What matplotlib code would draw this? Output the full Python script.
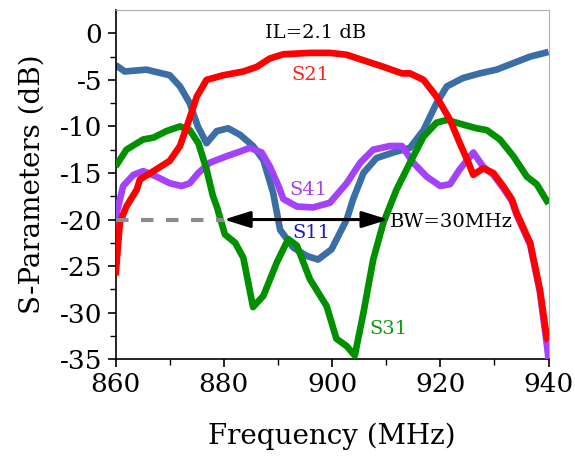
import numpy as np
import matplotlib
matplotlib.use('Agg')
import matplotlib.pyplot as plt

plt.rcParams['font.family'] = ['DejaVu Serif']
plt.rcParams['axes.unicode_minus'] = False

# S11 (return loss)
s11_f = [860, 861.7, 865.7, 870.0, 871.9, 873.7, 875.2, 876.8, 878.7, 880.8, 883.0, 885.4,
         887.3, 889.1, 890.4, 892.8, 895.3, 897.4, 899.9, 902.7, 903.9, 905.8, 908.2, 911.3,
         914.4, 916.9, 919.3, 921.2, 924.2, 927.3, 930.4, 933.5, 936.6, 940]
s11_db = [-3.4, -4.1, -3.9, -4.5, -5.7, -7.5, -10.0, -11.8, -10.5, -10.2, -10.9, -12.1,
          -13.6, -17.1, -21.1, -23.0, -23.9, -24.3, -23.2, -20.0, -17.8, -15.0, -13.4, -12.8,
          -12.3, -10.4, -7.5, -5.7, -4.8, -4.3, -3.9, -3.2, -2.5, -2.0]

# S21 (insertion loss)
s21_f = [860, 860.8, 862.0, 863.9, 864.5, 867.0, 870.0, 871.9, 873.4, 875.0, 876.8, 879.9,
         883.6, 886.1, 888.5, 891.0, 895.9, 899.6, 902.7, 905.8, 909.5, 912.9, 914.4, 916.9,
         919.3, 921.8, 923.6, 925.2, 926.1, 927.9, 929.8, 931.6, 933.2, 934.1, 936.6, 938.4,
         939.7, 940]
s21_db = [-26.0, -20.3, -18.6, -16.8, -15.7, -14.8, -13.7, -12.1, -9.6, -6.8, -5.0, -4.5,
          -4.1, -3.6, -2.7, -2.25, -2.1, -2.1, -2.3, -2.9, -3.6, -4.3, -4.3, -5.0,
          -6.8, -9.3, -11.8, -13.9, -15.2, -14.5, -15.0, -16.4, -17.8, -19.3, -22.5, -27.5,
          -32.8, -33.0]

# S31 (isolation)
s31_f = [860, 862.0, 865.1, 867.0, 869.4, 871.9, 873.7, 875.3, 876.8, 878.0, 878.7, 880.2,
         882.1, 883.6, 885.4, 887.3, 889.8, 891.9, 893.5, 895.9, 899.0, 900.8, 902.7, 904.2,
         905.8, 907.6, 909.5, 911.9, 914.4, 916.9, 919.3, 921.2, 924.2, 926.7, 928.6, 931.0,
         933.5, 936.0, 937.8, 940]
s31_db = [-14.3, -12.5, -11.4, -11.2, -10.5, -10.0, -10.4, -11.8, -14.6, -17.5, -18.6, -21.6,
          -22.5, -24.1, -29.4, -28.2, -24.6, -22.1, -22.8, -26.4, -29.3, -32.8, -33.6, -34.6,
          -30.0, -24.3, -20.3, -16.8, -13.9, -11.1, -9.6, -9.3, -9.8, -10.2, -10.4, -11.4,
          -13.2, -15.4, -16.2, -18.3]

# S41 (coupling)
s41_f = [860, 860.2, 861.4, 863.3, 865.1, 867.6, 870.0, 872.2, 873.7, 875.3, 877.4, 880.5,
         883.0, 884.8, 887.0, 888.5, 890.1, 891.0, 893.5, 896.5, 899.6, 902.7, 905.2, 907.6,
         910.7, 912.9, 915.0, 917.5, 920.0, 921.8, 923.6, 926.1, 927.9, 929.8, 931.6, 933.2,
         934.1, 936.6, 938.4, 939.7, 940]
s41_db = [-21.0, -19.3, -16.4, -15.2, -14.8, -15.4, -16.1, -16.4, -16.1, -15.0, -13.9, -13.2,
          -12.7, -12.3, -12.8, -14.3, -16.4, -17.8, -18.6, -18.7, -18.2, -16.1, -13.9, -12.5,
          -12.1, -12.1, -13.9, -15.4, -16.4, -16.2, -14.6, -12.8, -14.3, -15.2, -16.6, -18.0,
          -19.5, -22.7, -27.8, -33.5, -35.0]

fig = plt.figure(figsize=(5.75, 4.57), dpi=100)
ax = fig.add_axes([0.201, 0.214, 0.753, 0.764])

lw = 4.8
style = dict(lw=lw, solid_joinstyle='round', solid_capstyle='butt')
ax.plot(s11_f, s11_db, color='#3b6ea4', zorder=2, **style)
ax.plot(s41_f, s41_db, color='#a341fb', zorder=3, **style)
ax.plot(s31_f, s31_db, color='#009000', zorder=4, **style)
ax.plot(s21_f, s21_db, color='#ff0000', zorder=5, **style)

# bandwidth marker
ax.plot([860, 880], [-20, -20], color='#8c8c8c', lw=3, ls=(0, (3, 3)), zorder=6)
ax.annotate('', xy=(880, -20), xytext=(910.4, -20),
            arrowprops=dict(arrowstyle='<|-|>,head_length=0.8,head_width=0.25',
                            color='black', lw=2.2,
                            mutation_scale=20, shrinkA=0, shrinkB=0), zorder=7)

ax.text(897.0, 0.0, 'IL=2.1 dB', fontsize=14, ha='center', va='center')
ax.text(896.0, -4.5, 'S21', fontsize=14, color='#ff2020', ha='center', va='center')
ax.text(895.6, -16.8, 'S41', fontsize=14, color='#a341fb', ha='center', va='center')
ax.text(896.1, -21.4, 'S11', fontsize=14, color='#1a1ac0', ha='center', va='center')
ax.text(910.5, -31.8, 'S31', fontsize=14, color='#119911', ha='center', va='center')
ax.text(910.7, -20.3, 'BW=30MHz', fontsize=14, ha='left', va='center')

ax.set_xlim(860, 940)
ax.set_ylim(-35, 2.5)
ax.set_xticks([860, 880, 900, 920, 940])
ax.set_xticks([870, 890, 910, 930], minor=True)
ax.set_yticks([0, -5, -10, -15, -20, -25, -30, -35])
ax.set_yticks(np.arange(-32.5, 0, 5), minor=True)
ax.tick_params(which='major', direction='out', length=6, width=1.2, labelsize=19)
ax.tick_params(which='minor', direction='out', length=4, width=1.0)
for s in ['top', 'right']:
    ax.spines[s].set_color('#b0b0b0')
    ax.spines[s].set_linewidth(0.8)
for s in ['left', 'bottom']:
    ax.spines[s].set_linewidth(1.2)

ax.set_xlabel('Frequency (MHz)', fontsize=20, labelpad=18)
ax.set_ylabel('S-Parameters (dB)', fontsize=20, labelpad=10)

fig.savefig('out.png', dpi=100)
